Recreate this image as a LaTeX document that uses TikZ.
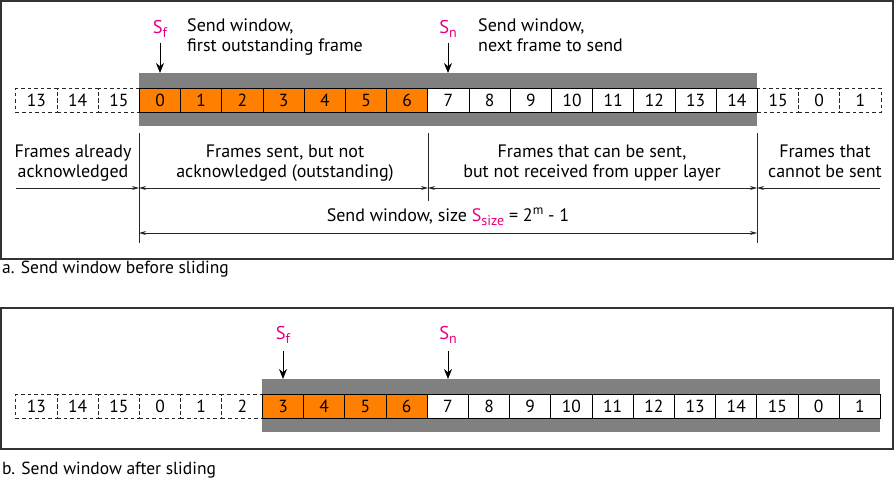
\documentclass[tikz,border=0pt]{standalone}
\usepackage{fontspec}
\setmainfont{PT Sans}
\usetikzlibrary{arrows.meta}
\definecolor{mag}{RGB}{230,0,126}
\definecolor{orng}{RGB}{255,128,0}
\definecolor{bandgray}{RGB}{128,128,128}
\newcommand\lowsub[1]{\lower4pt\hbox{\fontsize{14}{14}\selectfont #1}}
\newcommand\highsup[1]{\raise7pt\hbox{\fontsize{13}{13}\selectfont #1}}
\tikzset{
  cell/.style={draw=black, line width=0.9pt, minimum width=41.2pt, minimum height=24pt, inner sep=0pt, anchor=north west, font=\fontsize{17.5}{20}\selectfont},
  dcell/.style={cell, draw=black!85, dash pattern=on 3.5pt off 3pt},
  ocell/.style={cell, fill=orng},
  wcell/.style={cell, fill=white},
  band/.style={fill=bandgray, inner sep=0pt, anchor=north west, minimum height=53pt},
  ptr/.style={-{Stealth[length=10pt,width=8pt]}, line width=1pt},
  dimline/.style={line width=0.8pt, draw=black!85},
  dimarr/.style={dimline, -{Stealth[length=7pt,width=4pt]}},
  dimboth/.style={dimline, {Stealth[length=7pt,width=4pt]}-{Stealth[length=7pt,width=4pt]}},
  lbl/.style={font=\fontsize{18}{20}\selectfont, inner sep=0pt, align=center, anchor=north},
  lbll/.style={font=\fontsize{18}{20}\selectfont, inner sep=0pt, align=left, anchor=north west},
  sym/.style={text=mag, font=\fontsize{18.5}{20}\selectfont, inner sep=0pt, anchor=base},
  panel/.style={draw=black!80, line width=1.5pt},
  captxt/.style={font=\fontsize{17.5}{20}\selectfont, inner sep=0pt, anchor=base west},
}
\begin{document}
\begin{tikzpicture}[x=1pt,y=-1pt]
\useasboundingbox (0,0) rectangle (896,479);
% ---------------- panel a ----------------
\draw[panel] (1,1) rectangle (893,259);
\node[band, minimum width=618pt] (winA) at (139,73) {};
\foreach \t [count=\i from 0] in {13,14,15}
  \node[dcell] (al\i) at (15.4+\i*41.2,88) {\t};
\foreach \t [count=\i from 0] in {15,0,1}
  \node[dcell] (ar\i) at (757+\i*41.2,88) {\t};
\foreach \t [count=\i from 0] in {0,1,2,3,4,5,6}
  \node[ocell] (a\t) at (139+\i*41.2,88) {\t};
\foreach \t [count=\i from 7] in {7,8,9,10,11,12,13,14}
  \node[wcell] (aw\t) at (139+\i*41.2,88) {\t};
% pointers
\node[sym] (sfA) at (160,33) {S\lowsub{f}};
\node[sym] (snA) at (448,33) {S\lowsub{n}};
\draw[ptr] ([yshift=-10pt]sfA.base) -- (sfA.base |- winA.north);
\draw[ptr] ([yshift=-10pt]snA.base) -- (snA.base |- winA.north);
\node[lbll] (tSf) at (187,18.5) {Send window,\\first outstanding frame};
\node[lbll] (tSn) at (478,18.5) {Send window,\\next frame to send};
% vertical marks
\coordinate (v1t) at (139,133); \coordinate (v1b) at (139,243);
\coordinate (v2t) at (428,133); \coordinate (v2b) at (428,201);
\coordinate (v3t) at (757,133); \coordinate (v3b) at (757,243);
\draw[dimline] (v1t) -- (v1b);
\draw[dimline] (v2t) -- (v2b);
\draw[dimline] (v3t) -- (v3b);
\coordinate (L0) at (16,188);
\coordinate (R0) at (880,188);
\draw[dimarr] (L0) -- (v1t |- L0);
\draw[dimboth] (v1t |- L0) -- (v2t |- L0);
\draw[dimboth] (v2t |- L0) -- (v3t |- L0);
\draw[dimarr] (R0) -- (v3t |- R0);
\coordinate (W0) at (139,233);
\draw[dimboth] (W0) -- (v3t |- W0);
\node[lbl] (t1) at (73,145) {Frames already\\acknowledged};
\node[lbl] (t2) at (285,145) {Frames sent, but not\\acknowledged (outstanding)};
\node[lbl] (t3) at (592,145) {Frames that can be sent,\\but not received from upper layer};
\node[lbl] (t4) at (825,145) {Frames that\\cannot be sent};
\node[font=\fontsize{18}{20}\selectfont, inner sep=0pt, anchor=base] (tws) at (448,221)
  {Send window, size \textcolor{mag}{S\lowsub{size}} = 2\highsup{m} - 1};
\node[captxt] (capA) at (2,273) {a. Send window before sliding};
% ---------------- panel b ----------------
\draw[panel] (1,308) rectangle (893,449);
\node[band, minimum width=618pt] (winB) at (262,379) {};
\foreach \t [count=\i from 0] in {13,14,15,0,1,2}
  \node[dcell] (bl\i) at (15.4+\i*41.2,394) {\t};
\foreach \t [count=\i from 0] in {3,4,5,6}
  \node[ocell] (b\t) at (262+\i*41.2,394) {\t};
\foreach \t [count=\i from 4] in {7,8,9,10,11,12,13,14,15,0,1}
  \node[wcell] (bw\i) at (262+\i*41.2,394) {\t};
\node[sym] (sfB) at (283,339) {S\lowsub{f}};
\node[sym] (snB) at (448,339) {S\lowsub{n}};
\draw[ptr] ([yshift=-12pt]sfB.base) -- (sfB.base |- winB.north);
\draw[ptr] ([yshift=-12pt]snB.base) -- (snB.base |- winB.north);
\node[captxt] (capB) at (2,474) {b. Send window after sliding};
\end{tikzpicture}
\end{document}
